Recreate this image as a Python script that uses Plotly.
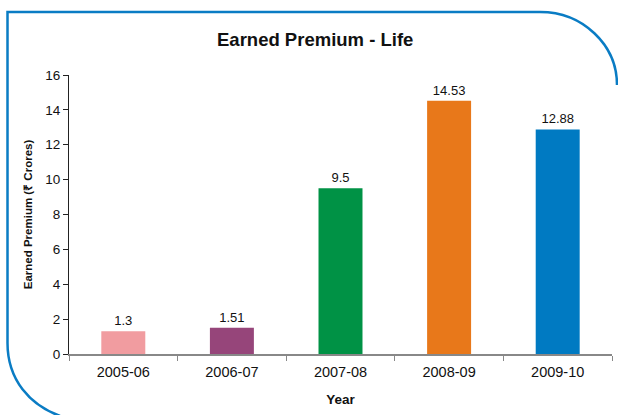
import plotly.graph_objects as go

categories = ["2005-06", "2006-07", "2007-08", "2008-09", "2009-10"]
values = [1.3, 1.51, 9.5, 14.53, 12.88]
labels = ["1.3", "1.51", "9.5", "14.53", "12.88"]
colors = ["#F19CA0", "#96457A", "#009245", "#E8781A", "#007AC2"]

W, H = 618, 415
L, R, T, B = 69, 6, 75, 61
pw, ph = W - L - R, H - T - B

def px(x):
    return (x - L) / pw

def py(y):
    return (H - B - y) / ph

fig = go.Figure(go.Bar(
    x=categories, y=values, marker_color=colors, marker_line_width=0,
    text=labels, textposition="outside", cliponaxis=False,
    textfont=dict(family="Liberation Sans, Arial", size=13, color="#111"),
))

border = (f"M {px(540)},{py(12)} L {px(7.5)},{py(12)} L {px(7.5)},{py(343)} "
          f"C {px(7.5)},{py(380)} {px(30)},{py(405)} {px(60)},{py(416)}")
border2 = (f"M {px(540)},{py(12)} C {px(583)},{py(12)} {px(617)},{py(45)} {px(617)},{py(85)}")

fig.update_layout(
    width=W, height=H, autosize=False,
    margin=dict(l=L, r=R, t=T, b=B),
    paper_bgcolor="white", plot_bgcolor="white",
    showlegend=False, bargap=0.595,
    font=dict(family="Liberation Sans, Arial", color="#111"),
    title=dict(text="<b>Earned Premium - Life</b>", x=0.51, xanchor="center",
               y=1 - 40 / H, yanchor="middle",
               font=dict(size=18.5, color="#111")),
    xaxis=dict(type="category", automargin=False,
               title=dict(text="<b>Year</b>", font=dict(size=13.5), standoff=15),
               tickfont=dict(size=14.5), showline=True, linecolor="#888", linewidth=1.5,
               ticks="outside", tickson="boundaries", ticklen=5, tickcolor="#888",
               ticklabelstandoff=4, showgrid=False),
    yaxis=dict(automargin=False,
               title=dict(text="<b>Earned Premium (₹ Crores)</b>", font=dict(size=11.5), standoff=10),
               range=[0, 16], dtick=2, tickfont=dict(size=13.5),
               showline=True, linecolor="#222", linewidth=1,
               ticks="outside", ticklen=5, tickcolor="#222",
               showgrid=False, zeroline=False),
    shapes=[
        dict(type="path", xref="paper", yref="paper", path=border,
             line=dict(color="#0A7CC4", width=2.5)),
        dict(type="path", xref="paper", yref="paper", path=border2,
             line=dict(color="#0A7CC4", width=2.5)),
    ],
)

fig.write_html("out.html", config={"displayModeBar": False},
               post_script="document.body.style.margin='0';document.body.style.overflow='hidden';")
